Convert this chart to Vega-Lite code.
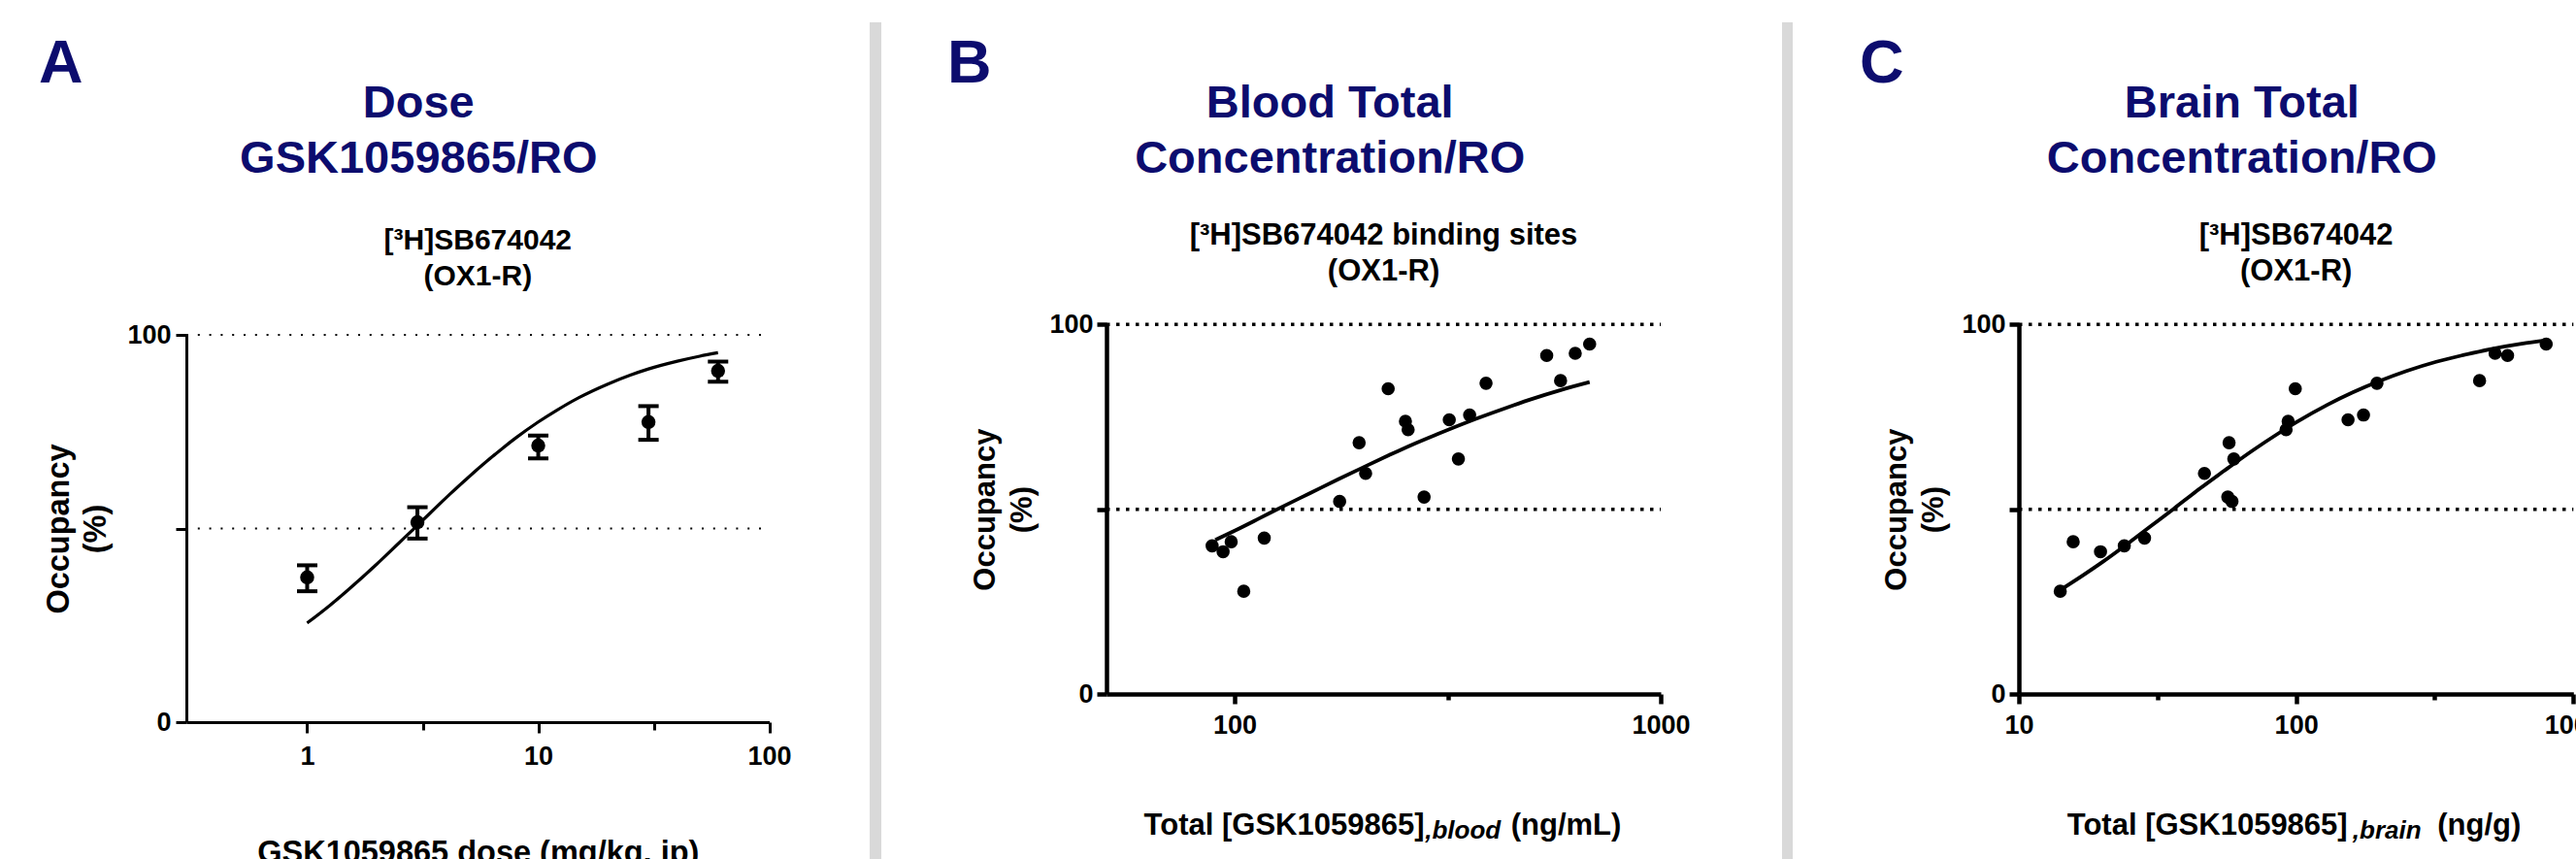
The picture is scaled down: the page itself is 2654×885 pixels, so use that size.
{
  "$schema": "https://vega.github.io/schema/vega-lite/v6.json",
  "background": "white",
  "padding": {"left": 0, "top": 23, "right": 0, "bottom": 0},
  "spacing": 0,
  "bounds": "flush",
  "config": {
    "view": {"stroke": null},
    "axis": {"grid": false, "domainColor": "black", "tickColor": "black", "labelColor": "black", "titleColor": "black", "labelFont": "Liberation Sans", "titleFont": "Liberation Sans", "labelFontWeight": "bold", "titleFontWeight": "bold", "labelFontSize": 27, "labelFlush": false, "labelOverlap": false}
  },
  "datasets": {
    "grid": [{"g": 50}, {"g": 100}],
    "A_pts": [
      {"dose": 1, "occ": 37.4, "lo": 33.8, "hi": 40.5},
      {"dose": 3, "occ": 51.6, "lo": 47.4, "hi": 55.5},
      {"dose": 10, "occ": 71.4, "lo": 68.1, "hi": 74.0},
      {"dose": 30, "occ": 77.5, "lo": 72.9, "hi": 81.6},
      {"dose": 60, "occ": 90.7, "lo": 87.9, "hi": 93.1}
    ],
    "A_fit": [{"x":1,"y":25.6},{"x":1.25,"y":30.1},{"x":1.5,"y":34.1},{"x":2,"y":40.8},{"x":2.5,"y":46.3},{"x":3,"y":50.8},{"x":4,"y":58.0},{"x":5,"y":63.3},{"x":6,"y":67.4},{"x":7,"y":70.7},{"x":8,"y":73.4},{"x":10,"y":77.5},{"x":12,"y":80.5},{"x":15,"y":83.8},{"x":20,"y":87.3},{"x":25,"y":89.6},{"x":30,"y":91.2},{"x":40,"y":93.2},{"x":50,"y":94.5},{"x":60,"y":95.4}],
    "B_pts": [
      {"conc": 88.5, "occ": 40.1}, {"conc": 93.9, "occ": 38.5}, {"conc": 98.1, "occ": 41.2}, {"conc": 105.0, "occ": 27.8},
      {"conc": 117.3, "occ": 42.2}, {"conc": 176.3, "occ": 52.1}, {"conc": 195.9, "occ": 68.0}, {"conc": 202.9, "occ": 59.7},
      {"conc": 229.2, "occ": 82.6}, {"conc": 251.6, "occ": 73.8}, {"conc": 255.3, "occ": 71.5}, {"conc": 278.3, "occ": 53.3},
      {"conc": 318.9, "occ": 74.2}, {"conc": 335, "occ": 63.6}, {"conc": 356, "occ": 75.5}, {"conc": 389, "occ": 84.1},
      {"conc": 540, "occ": 91.6}, {"conc": 582, "occ": 84.8}, {"conc": 630, "occ": 92.2}, {"conc": 681, "occ": 94.7}
    ],
    "B_fit": [{"x":90,"y":41.7},{"x":100,"y":44.2},{"x":115,"y":47.7},{"x":130,"y":50.8},{"x":150,"y":54.3},{"x":175,"y":58.1},{"x":200,"y":61.3},{"x":230,"y":64.6},{"x":260,"y":67.4},{"x":300,"y":70.4},{"x":350,"y":73.5},{"x":400,"y":76.0},{"x":450,"y":78.1},{"x":500,"y":79.9},{"x":580,"y":82.2},{"x":681,"y":84.4}],
    "C_pts": [
      {"conc": 14.1, "occ": 27.8}, {"conc": 15.7, "occ": 41.2}, {"conc": 19.7, "occ": 38.5}, {"conc": 24.0, "occ": 40.1},
      {"conc": 28.4, "occ": 42.2}, {"conc": 46.7, "occ": 59.7}, {"conc": 57.3, "occ": 68.0}, {"conc": 59.6, "occ": 63.6},
      {"conc": 56.7, "occ": 53.3}, {"conc": 58.7, "occ": 52.1}, {"conc": 92.0, "occ": 71.5}, {"conc": 93.6, "occ": 73.8},
      {"conc": 99.3, "occ": 82.6}, {"conc": 153.9, "occ": 74.2}, {"conc": 175, "occ": 75.5}, {"conc": 195.7, "occ": 84.1},
      {"conc": 458.8, "occ": 84.8}, {"conc": 521.9, "occ": 92.2}, {"conc": 579, "occ": 91.6}, {"conc": 797.9, "occ": 94.7}
    ],
    "C_fit": [{"x":14,"y":28.0},{"x":17,"y":32.1},{"x":20,"y":35.7},{"x":25,"y":41.0},{"x":30,"y":45.5},{"x":36,"y":50.0},{"x":45,"y":55.6},{"x":55,"y":60.4},{"x":70,"y":66.0},{"x":85,"y":70.2},{"x":100,"y":73.5},{"x":130,"y":78.3},{"x":160,"y":81.6},{"x":200,"y":84.7},{"x":250,"y":87.4},{"x":320,"y":89.9},{"x":400,"y":91.7},{"x":500,"y":93.3},{"x":650,"y":94.8},{"x":800,"y":95.7}]
  },
  "hconcat": [
    {
      "width": 191.7, "height": 862,
      "data": {"values": []}, "mark": "rect", "encoding": {},
      "title": {"text": "A", "anchor": "start", "frame": "group", "orient": "top", "offset": -75, "dx": 40, "color": "#0c0c6e", "font": "Liberation Sans", "fontSize": 63, "fontWeight": "bold"}
    },
    {
      "width": 600.6, "height": 862,
      "title": {"text": ["Dose", "GSK1059865/RO"], "subtitle": ["[³H]SB674042", "(OX1-R)"], "anchor": "middle", "frame": "group", "orient": "top", "offset": -278, "color": "#0c0c6e", "font": "Liberation Sans", "fontSize": 47, "fontWeight": "bold", "lineHeight": 56.4, "subtitleColor": "black", "subtitleFont": "Liberation Sans", "subtitleFontSize": 30, "subtitleFontWeight": "bold", "subtitleLineHeight": 37.5, "subtitlePadding": 44.9, "encoding": {"dx": {"value": -61}}},
      "resolve": {"axis": {"x": "independent", "y": "independent"}},
      "layer": [
        {
          "data": {"name": "grid"},
          "mark": {"type": "rule", "strokeDash": [2, 9.8], "strokeWidth": 2, "color": "black", "strokeCap": "butt"},
          "encoding": {
            "x": {"datum": 0.3, "type": "quantitative", "scale": {"type": "log", "domain": [0.3, 100], "nice": false}, "axis": null},
            "x2": {"datum": 100},
            "y": {"field": "g", "type": "quantitative", "scale": {"domain": [0, 100], "range": [721, 322], "nice": false, "zero": false}, "axis": null}
          }
        },
        {
          "data": {"name": "A_fit"},
          "mark": {"type": "line", "color": "black", "strokeWidth": 3.2, "interpolate": "monotone"},
          "encoding": {
            "x": {"field": "x", "type": "quantitative", "scale": {"type": "log", "domain": [0.3, 100], "nice": false},
                  "axis": {"orient": "bottom", "offset": -141, "values": [3.1623, 31.623], "labels": false, "domain": false, "tickSize": 8, "tickWidth": 3, "title": null}},
            "y": {"field": "y", "type": "quantitative", "scale": {"domain": [0, 100], "range": [721, 322], "nice": false, "zero": false}, "axis": null}
          }
        },
        {
          "data": {"name": "A_pts"},
          "mark": {"type": "rule", "color": "black", "strokeWidth": 4},
          "encoding": {
            "x": {"field": "dose", "type": "quantitative", "scale": {"type": "log", "domain": [0.3, 100], "nice": false}, "axis": null},
            "y": {"field": "lo", "type": "quantitative", "scale": {"domain": [0, 100], "range": [721, 322], "nice": false, "zero": false}, "axis": null},
            "y2": {"field": "hi"}
          }
        },
        {
          "data": {"name": "A_pts"},
          "mark": {"type": "tick", "orient": "horizontal", "size": 21, "thickness": 4, "color": "black", "opacity": 1},
          "encoding": {
            "x": {"field": "dose", "type": "quantitative", "scale": {"type": "log", "domain": [0.3, 100], "nice": false}, "axis": null},
            "y": {"field": "lo", "type": "quantitative", "scale": {"domain": [0, 100], "range": [721, 322], "nice": false, "zero": false}, "axis": null}
          }
        },
        {
          "data": {"name": "A_pts"},
          "mark": {"type": "tick", "orient": "horizontal", "size": 21, "thickness": 4, "color": "black", "opacity": 1},
          "encoding": {
            "x": {"field": "dose", "type": "quantitative", "scale": {"type": "log", "domain": [0.3, 100], "nice": false}, "axis": null},
            "y": {"field": "hi", "type": "quantitative", "scale": {"domain": [0, 100], "range": [721, 322], "nice": false, "zero": false}, "axis": null}
          }
        },
        {
          "data": {"name": "A_pts"},
          "mark": {"type": "circle", "size": 210, "color": "black", "opacity": 1},
          "encoding": {
            "x": {"field": "dose", "type": "quantitative", "scale": {"type": "log", "domain": [0.3, 100], "nice": false},
                  "axis": {"orient": "bottom", "offset": -141, "values": [1, 10, 100], "labelExpr": "datum.value == 1 ? '1' : datum.value == 10 ? '10' : '100'", "tickSize": 11, "tickWidth": 3, "domainWidth": 3, "labelPadding": 11, "labelFontSize": 27,
                           "title": "GSK1059865 dose (mg/kg, ip)", "titleFontSize": 32.5, "titleY": 144, "titleBaseline": "alphabetic"}},
            "y": {"field": "occ", "type": "quantitative", "scale": {"domain": [0, 100], "range": [721, 322], "nice": false, "zero": false},
                  "axis": {"orient": "left", "values": [0, 50, 100], "labelExpr": "datum.value == 50 ? '' : datum.value == 0 ? '0' : '100'", "tickSize": 11, "tickWidth": 3, "domainWidth": 3, "labelPadding": 5, "labelFontSize": 27,
                           "title": ["Occupancy", "(%)"], "titleFontSize": 32.5, "titleLineHeight": 37.5, "titleAngle": 270, "titleAlign": "center", "titleBaseline": "bottom", "titleX": -114.2}}
          }
        }
      ]
    },
    {"width": 102.7, "height": 862, "data": {"values": []}, "mark": "rect", "encoding": {}},
    {"width": 12, "height": 862, "view": {"fill": "#d9d9d9", "stroke": null}, "data": {"values": []}, "mark": "rect", "encoding": {}},
    {
      "width": 231.3, "height": 862,
      "data": {"values": []}, "mark": "rect", "encoding": {},
      "title": {"text": "B", "anchor": "start", "frame": "group", "orient": "top", "offset": -75, "dx": 68, "color": "#0c0c6e", "font": "Liberation Sans", "fontSize": 63, "fontWeight": "bold"}
    },
    {
      "width": 571, "height": 862,
      "title": {"text": ["Blood Total", "Concentration/RO"], "subtitle": ["[³H]SB674042 binding sites", "(OX1-R)"], "anchor": "middle", "frame": "group", "orient": "top", "offset": -273.3, "color": "#0c0c6e", "font": "Liberation Sans", "fontSize": 47, "fontWeight": "bold", "lineHeight": 56.4, "subtitleColor": "black", "subtitleFont": "Liberation Sans", "subtitleFontSize": 31, "subtitleFontWeight": "bold", "subtitleLineHeight": 37, "subtitlePadding": 40.6, "encoding": {"dx": {"value": -55.3}}},
      "resolve": {"axis": {"x": "independent", "y": "independent"}},
      "layer": [
        {
          "data": {"name": "grid"},
          "mark": {"type": "rule", "strokeDash": [3.5, 6.5], "strokeWidth": 3.5, "color": "black", "strokeCap": "butt"},
          "encoding": {
            "x": {"datum": 50, "type": "quantitative", "scale": {"type": "log", "domain": [50, 1000], "nice": false},
                  "axis": {"orient": "bottom", "offset": -170, "values": [316.23], "labels": false, "domain": false, "tickSize": 6, "tickWidth": 4.5,
                           "title": ",blood", "titleFontStyle": "italic", "titleFontSize": 26, "titleX": 327.7, "titleY": 148, "titleAlign": "left", "titleBaseline": "alphabetic"}},
            "x2": {"datum": 1000},
            "y": {"field": "g", "type": "quantitative", "scale": {"domain": [0, 100], "range": [692, 311.3], "nice": false, "zero": false}, "axis": null}
          }
        },
        {
          "data": {"name": "B_fit"},
          "mark": {"type": "line", "color": "black", "strokeWidth": 3.8, "interpolate": "monotone"},
          "encoding": {
            "x": {"field": "x", "type": "quantitative", "scale": {"type": "log", "domain": [50, 1000], "nice": false},
                  "axis": {"orient": "bottom", "offset": -170, "labels": false, "domain": false, "ticks": false,
                           "title": "(ng/mL)", "titleFontSize": 31, "titleX": 416.2, "titleY": 144, "titleAlign": "left", "titleBaseline": "alphabetic"}},
            "y": {"field": "y", "type": "quantitative", "scale": {"domain": [0, 100], "range": [692, 311.3], "nice": false, "zero": false}, "axis": null}
          }
        },
        {
          "data": {"name": "B_pts"},
          "mark": {"type": "circle", "size": 185, "color": "black", "opacity": 1},
          "encoding": {
            "x": {"field": "conc", "type": "quantitative", "scale": {"type": "log", "domain": [50, 1000], "nice": false},
                  "axis": {"orient": "bottom", "offset": -170, "values": [100, 1000], "labelExpr": "datum.value == 100 ? '100' : '1000'", "tickSize": 10, "tickWidth": 4.5, "domainWidth": 4.5, "labelPadding": 9.7, "labelFontSize": 27,
                           "title": "Total [GSK1059865]", "titleFontSize": 31, "titleX": 38.1, "titleY": 144, "titleAlign": "left", "titleBaseline": "alphabetic"}},
            "y": {"field": "occ", "type": "quantitative", "scale": {"domain": [0, 100], "range": [692, 311.3], "nice": false, "zero": false},
                  "axis": {"orient": "left", "values": [0, 50, 100], "labelExpr": "datum.value == 50 ? '' : datum.value == 0 ? '0' : '100'", "tickSize": 10, "tickWidth": 4.5, "domainWidth": 4.5, "labelPadding": 4, "labelFontSize": 27,
                           "title": ["Occupancy", "(%)"], "titleFontSize": 31, "titleLineHeight": 37.5, "titleAngle": 270, "titleAlign": "center", "titleBaseline": "bottom", "titleX": -108.3}}
          }
        }
      ]
    },
    {"width": 124.7, "height": 862, "data": {"values": []}, "mark": "rect", "encoding": {}},
    {"width": 11, "height": 862, "view": {"fill": "#d9d9d9", "stroke": null}, "data": {"values": []}, "mark": "rect", "encoding": {}},
    {
      "width": 232.7, "height": 862,
      "data": {"values": []}, "mark": "rect", "encoding": {},
      "title": {"text": "C", "anchor": "start", "frame": "group", "orient": "top", "offset": -75, "dx": 69, "color": "#0c0c6e", "font": "Liberation Sans", "fontSize": 63, "fontWeight": "bold"}
    },
    {
      "width": 571.3, "height": 862,
      "title": {"text": ["Brain Total", "Concentration/RO"], "subtitle": ["[³H]SB674042", "(OX1-R)"], "anchor": "middle", "frame": "group", "orient": "top", "offset": -273.3, "color": "#0c0c6e", "font": "Liberation Sans", "fontSize": 47, "fontWeight": "bold", "lineHeight": 56.4, "subtitleColor": "black", "subtitleFont": "Liberation Sans", "subtitleFontSize": 31, "subtitleFontWeight": "bold", "subtitleLineHeight": 37, "subtitlePadding": 40.6, "encoding": {"dx": {"value": -55.8}}},
      "resolve": {"axis": {"x": "independent", "y": "independent"}},
      "layer": [
        {
          "data": {"name": "grid"},
          "mark": {"type": "rule", "strokeDash": [3.5, 6.5], "strokeWidth": 3.5, "color": "black", "strokeCap": "butt"},
          "encoding": {
            "x": {"datum": 10, "type": "quantitative", "scale": {"type": "log", "domain": [10, 1000], "nice": false},
                  "axis": {"orient": "bottom", "offset": -170, "values": [31.623, 316.23], "labels": false, "domain": false, "tickSize": 6, "tickWidth": 4.5,
                           "title": ",brain", "titleFontStyle": "italic", "titleFontSize": 26, "titleX": 343.3, "titleY": 148, "titleAlign": "left", "titleBaseline": "alphabetic"}},
            "x2": {"datum": 1000},
            "y": {"field": "g", "type": "quantitative", "scale": {"domain": [0, 100], "range": [692, 311.3], "nice": false, "zero": false}, "axis": null}
          }
        },
        {
          "data": {"name": "C_fit"},
          "mark": {"type": "line", "color": "black", "strokeWidth": 3.8, "interpolate": "monotone"},
          "encoding": {
            "x": {"field": "x", "type": "quantitative", "scale": {"type": "log", "domain": [10, 1000], "nice": false},
                  "axis": {"orient": "bottom", "offset": -170, "labels": false, "domain": false, "ticks": false,
                           "title": "(ng/g)", "titleFontSize": 31, "titleX": 430.7, "titleY": 144, "titleAlign": "left", "titleBaseline": "alphabetic"}},
            "y": {"field": "y", "type": "quantitative", "scale": {"domain": [0, 100], "range": [692, 311.3], "nice": false, "zero": false}, "axis": null}
          }
        },
        {
          "data": {"name": "C_pts"},
          "mark": {"type": "circle", "size": 185, "color": "black", "opacity": 1},
          "encoding": {
            "x": {"field": "conc", "type": "quantitative", "scale": {"type": "log", "domain": [10, 1000], "nice": false},
                  "axis": {"orient": "bottom", "offset": -170, "values": [10, 100, 1000], "labelExpr": "datum.value == 10 ? '10' : datum.value == 100 ? '100' : '1000'", "tickSize": 10, "tickWidth": 4.5, "domainWidth": 4.5, "labelPadding": 9.7, "labelFontSize": 27,
                           "title": "Total [GSK1059865]", "titleFontSize": 31, "titleX": 49.3, "titleY": 144, "titleAlign": "left", "titleBaseline": "alphabetic"}},
            "y": {"field": "occ", "type": "quantitative", "scale": {"domain": [0, 100], "range": [692, 311.3], "nice": false, "zero": false},
                  "axis": {"orient": "left", "values": [0, 50, 100], "labelExpr": "datum.value == 50 ? '' : datum.value == 0 ? '0' : '100'", "tickSize": 10, "tickWidth": 4.5, "domainWidth": 4.5, "labelPadding": 4, "labelFontSize": 27,
                           "title": ["Occupancy", "(%)"], "titleFontSize": 31, "titleLineHeight": 37.5, "titleAngle": 270, "titleAlign": "center", "titleBaseline": "bottom", "titleX": -109.2}}
          }
        }
      ]
    }
  ]
}
